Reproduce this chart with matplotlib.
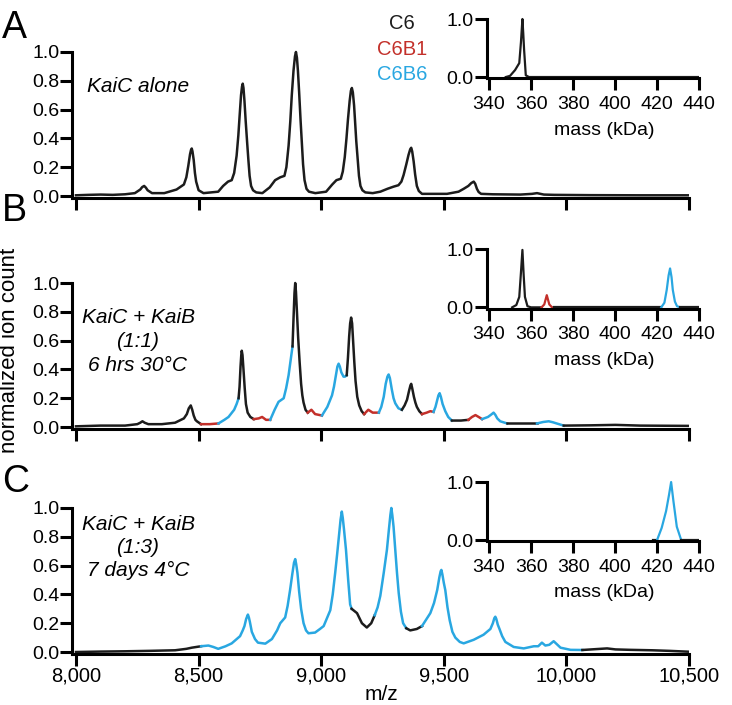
import numpy as np
import matplotlib
matplotlib.use("Agg")
import matplotlib.pyplot as plt

plt.rcParams['font.family'] = ['Liberation Sans', 'DejaVu Sans']

# colours for the three species
COLORS = {'k': '#1c1c1c', 'r': '#c3302a', 'b': '#29a7e1'}

# ---- panel A: KaiC alone (m/z, normalized ion count) ----
a_mz = [8000, 8050, 8100, 8150, 8200, 8240, 8262, 8270, 8278, 8285, 8292, 8310, 8360, 8390, 8410,
        8440, 8450, 8458, 8465, 8469, 8472, 8475, 8480, 8485, 8490, 8500, 8520,
        8580, 8600, 8620, 8635, 8645, 8655, 8662, 8667, 8673, 8677, 8680, 8683, 8687, 8692, 8698, 8703, 8708, 8714, 8722, 8735, 8760,
        8790, 8812, 8833, 8850, 8858, 8867, 8874, 8880, 8887, 8893, 8897, 8901, 8905, 8910, 8916, 8921, 8926, 8932, 8940, 8950, 8976,
        9020, 9045, 9062, 9080, 9088, 9096, 9103, 9109, 9116, 9121, 9125, 9129, 9134, 9138, 9143, 9149, 9154, 9160, 9168, 9180, 9210,
        9241, 9270, 9295, 9315, 9327, 9336, 9347, 9356, 9363, 9367, 9371, 9377, 9383, 9390, 9398, 9411,
        9513, 9560, 9581, 9600, 9612, 9622, 9628, 9635, 9642, 9652, 9700, 9812, 9860, 9880, 9908, 9950, 10100, 10300, 10500]
a_int = [0.005, 0.008, 0.01, 0.008, 0.012, 0.02, 0.045, 0.062, 0.07, 0.058, 0.04, 0.02, 0.02, 0.035, 0.045,
         0.08, 0.13, 0.21, 0.29, 0.32, 0.33, 0.31, 0.25, 0.16, 0.10, 0.04, 0.02,
         0.03, 0.07, 0.10, 0.11, 0.16, 0.28, 0.42, 0.55, 0.70, 0.76, 0.78, 0.75, 0.66, 0.52, 0.37, 0.25, 0.14, 0.07, 0.04, 0.025, 0.02,
         0.06, 0.11, 0.13, 0.14, 0.20, 0.35, 0.52, 0.70, 0.87, 0.97, 1.0, 0.96, 0.87, 0.72, 0.52, 0.37, 0.22, 0.11, 0.05, 0.03, 0.02,
         0.03, 0.08, 0.11, 0.12, 0.17, 0.27, 0.40, 0.53, 0.66, 0.73, 0.75, 0.72, 0.63, 0.52, 0.38, 0.25, 0.14, 0.07, 0.04, 0.025, 0.02,
         0.03, 0.05, 0.065, 0.075, 0.10, 0.146, 0.22, 0.285, 0.325, 0.335, 0.31, 0.24, 0.15, 0.07, 0.035, 0.015,
         0.015, 0.03, 0.05, 0.07, 0.09, 0.10, 0.085, 0.05, 0.028, 0.015, 0.012, 0.01, 0.015, 0.02, 0.01, 0.008, 0.006, 0.005, 0.005]
a_edges = [8000, 10500]
a_colors = ['k']

# ---- panel B: KaiC + KaiB (1:1), 6 hrs 30°C ----
b_mz = [8000, 8100, 8200, 8250, 8262, 8271, 8280, 8295, 8350, 8404, 8440, 8452, 8460, 8468, 8474, 8480, 8487, 8493, 8510,
        8545, 8581, 8605, 8622, 8645, 8655, 8663, 8667, 8671, 8674, 8676, 8679, 8683, 8688, 8693, 8700, 8711, 8725,
        8745, 8759, 8775, 8792, 8810, 8826, 8847, 8857, 8867, 8875, 8883, 8887, 8891, 8894, 8897, 8901, 8906, 8912, 8918, 8923, 8928, 8936, 8945,
        8960, 8975, 9003, 9025, 9044, 9052, 9060, 9066, 9071, 9076, 9082, 9091, 9097, 9104, 9109, 9114, 9118, 9122, 9126, 9130, 9135, 9140, 9147, 9155, 9165, 9175,
        9192, 9210, 9235, 9245, 9255, 9263, 9270, 9275, 9280, 9288, 9295, 9302, 9315, 9329,
        9340, 9350, 9358, 9364, 9367, 9371, 9378, 9384, 9390, 9400, 9411,
        9430, 9445, 9458, 9466, 9472, 9478, 9483, 9488, 9495, 9506, 9518, 9533, 9570, 9600, 9615, 9629, 9642, 9656,
        9680, 9692, 9703, 9710, 9718, 9730, 9758, 9820, 9880, 9905, 9928, 9945, 9960, 9989, 10100, 10200, 10300, 10500]
b_int = [0.005, 0.01, 0.01, 0.02, 0.03, 0.04, 0.03, 0.02, 0.02, 0.03, 0.06, 0.09, 0.13, 0.15, 0.12, 0.08, 0.05, 0.04, 0.02,
         0.02, 0.025, 0.05, 0.07, 0.12, 0.16, 0.20, 0.28, 0.42, 0.50, 0.53, 0.50, 0.40, 0.27, 0.16, 0.10, 0.07, 0.055,
         0.06, 0.07, 0.05, 0.05, 0.12, 0.175, 0.20, 0.27, 0.36, 0.46, 0.56, 0.75, 0.93, 1.0, 0.94, 0.80, 0.62, 0.45, 0.30, 0.22, 0.17, 0.12, 0.10,
         0.12, 0.09, 0.08, 0.14, 0.22, 0.28, 0.36, 0.42, 0.44, 0.42, 0.38, 0.35, 0.35, 0.36, 0.48, 0.63, 0.72, 0.76, 0.72, 0.60, 0.45, 0.32, 0.21, 0.15, 0.11, 0.09,
         0.12, 0.10, 0.10, 0.14, 0.21, 0.30, 0.35, 0.365, 0.34, 0.26, 0.20, 0.165, 0.13, 0.12,
         0.15, 0.19, 0.25, 0.29, 0.30, 0.27, 0.21, 0.17, 0.14, 0.11, 0.09,
         0.10, 0.11, 0.105, 0.14, 0.18, 0.22, 0.235, 0.21, 0.16, 0.11, 0.07, 0.045, 0.045, 0.05, 0.07, 0.083, 0.07, 0.055,
         0.07, 0.085, 0.10, 0.085, 0.06, 0.04, 0.025, 0.025, 0.025, 0.035, 0.04, 0.033, 0.025, 0.01, 0.012, 0.015, 0.01, 0.008]
b_edges = [8000, 8510, 8581, 8663, 8725, 8792, 8883, 8945, 9003, 9104, 9175, 9235,
           9329, 9411, 9458, 9533, 9600, 9656, 9758, 9880, 9989, 10500]
b_colors = ['k', 'r', 'b', 'k', 'r', 'b', 'k', 'r', 'b', 'k', 'r', 'b',
            'k', 'r', 'b', 'k', 'r', 'b', 'k', 'b', 'k']

# ---- panel C: KaiC + KaiB (1:3), 7 days 4°C ----
c_mz = [8000, 8100, 8200, 8300, 8404, 8450, 8472, 8510,
        8540, 8560, 8580, 8610, 8635, 8669, 8680, 8687, 8694, 8701, 8705, 8709, 8717, 8730, 8742, 8772, 8799,
        8820, 8833, 8853, 8863, 8873, 8882, 8889, 8894, 8898, 8903, 8910, 8918, 8928, 8938, 8948, 8975, 8995, 9010,
        9037, 9047, 9057, 9065, 9072, 9079, 9084, 9088, 9093, 9101, 9110, 9118, 9124, 9146, 9166, 9186, 9204, 9218,
        9230, 9241, 9255, 9268, 9276, 9282, 9286, 9290, 9295, 9302, 9309, 9316, 9325, 9334, 9347, 9363, 9390, 9411,
        9445, 9460, 9473, 9482, 9487, 9490, 9494, 9500, 9506, 9515, 9524, 9535, 9547, 9565, 9581, 9622, 9662,
        9690, 9700, 9706, 9710, 9714, 9720, 9727, 9738, 9751,
        9785, 9826, 9867, 9885, 9900, 9914, 9930, 9948, 9976, 10017, 10065, 10120, 10166, 10200, 10261, 10350, 10420, 10500]
c_int = [0.0, 0.003, 0.005, 0.008, 0.012, 0.022, 0.03, 0.04,
         0.045, 0.035, 0.022, 0.04, 0.06, 0.11, 0.15, 0.18, 0.23, 0.26, 0.24, 0.21, 0.14, 0.09, 0.065, 0.058, 0.09,
         0.15, 0.20, 0.24, 0.32, 0.43, 0.54, 0.62, 0.645, 0.61, 0.55, 0.42, 0.30, 0.20, 0.15, 0.13, 0.135, 0.16, 0.18,
         0.29, 0.40, 0.55, 0.68, 0.80, 0.92, 0.975, 0.93, 0.85, 0.71, 0.50, 0.33, 0.30, 0.27, 0.20, 0.17, 0.20, 0.255,
         0.31, 0.39, 0.55, 0.71, 0.85, 0.95, 1.0, 0.95, 0.87, 0.71, 0.55, 0.41, 0.28, 0.20, 0.165, 0.15, 0.16, 0.18,
         0.27, 0.34, 0.43, 0.52, 0.56, 0.57, 0.54, 0.48, 0.43, 0.31, 0.22, 0.14, 0.10, 0.07, 0.06, 0.085, 0.12,
         0.16, 0.20, 0.235, 0.245, 0.23, 0.19, 0.16, 0.11, 0.07,
         0.035, 0.025, 0.04, 0.04, 0.065, 0.045, 0.05, 0.075, 0.03, 0.015, 0.014, 0.02, 0.025, 0.018, 0.015, 0.012, 0.008, 0.002]
c_edges = [8000, 8510, 9124, 9218, 9347, 9411, 10065, 10500]
c_colors = ['k', 'b', 'k', 'b', 'k', 'b', 'k']

# ---- insets: deconvolved mass (kDa) ----
ia_mass = [348, 350, 352.4, 354.4, 355.2, 355.9, 356.3, 356.7, 357.5, 359, 440]
ia_int = [0.0, 0.02, 0.12, 0.24, 0.6, 1.0, 0.75, 0.47, 0.03, 0.0, 0.0]
ia_edges = [348, 440]
ia_colors = ['k']

ib_mass = [351, 353, 354.4, 355.2, 355.9, 356.5, 357.1, 358.3, 360, 365, 366.3, 367.5, 368.7, 370, 371,
           380, 400, 422, 423.5, 424.6, 425.5, 426.2, 426.9, 427.5, 428.5, 429.5, 431, 435, 440]
ib_int = [0.0, 0.04, 0.18, 0.6, 0.99, 0.55, 0.18, 0.02, 0.0, 0.0, 0.05, 0.21, 0.05, 0.0, 0.0,
          0.0, 0.0, 0.0, 0.08, 0.3, 0.55, 0.67, 0.52, 0.3, 0.1, 0.02, 0.0, 0.0, 0.0]
ib_edges = [351, 365, 371, 422, 431, 440]
ib_colors = ['k', 'r', 'k', 'b', 'k']

ic_mass = [418, 420, 422.2, 424.3, 425.7, 426.7, 427.8, 429.4, 431.5, 435, 440]
ic_int = [0.0, 0.0, 0.21, 0.5, 0.78, 1.0, 0.67, 0.23, 0.0, 0.0, 0.0]
ic_edges = [418, 420, 431.5, 440]
ic_colors = ['k', 'b', 'k']

mz_ticks = [8000, 8500, 9000, 9500, 10000, 10500]
mz_labels = ['8,000', '8,500', '9,000', '9,500', '10,000', '10,500']
y_ticks = [0.0, 0.2, 0.4, 0.6, 0.8, 1.0]
mass_ticks = [340, 360, 380, 400, 420, 440]

W, H = 732, 705


def draw_trace(ax, x, y, edges, colors, lw):
    # one line piece per coloured stretch of the spectrum
    x = np.asarray(x, dtype=float)
    y = np.asarray(y, dtype=float)
    for lo, hi, c in zip(edges[:-1], edges[1:], colors):
        m = (x >= lo) & (x <= hi)
        ax.plot(x[m], y[m], color=COLORS[c], lw=lw, solid_joinstyle='round')


def style_axes(ax):
    for s in ['top', 'right']:
        ax.spines[s].set_visible(False)
    for s in ['left', 'bottom']:
        ax.spines[s].set_linewidth(2.2)
        ax.spines[s].set_color('black')


fig = plt.figure(figsize=(W / 100, H / 100), dpi=100)

main_bottoms = [0.7189, 0.3912, 0.0721]
inset_bottoms = [0.8891, 0.5624, 0.2323]
traces = [(a_mz, a_int, a_edges, a_colors),
          (b_mz, b_int, b_edges, b_colors),
          (c_mz, c_int, c_edges, c_colors)]
insets = [(ia_mass, ia_int, ia_edges, ia_colors),
          (ib_mass, ib_int, ib_edges, ib_colors),
          (ic_mass, ic_int, ic_edges, ic_colors)]

for i in range(3):
    ax = fig.add_axes([0.0988, main_bottoms[i], 0.8425, 0.2135])
    style_axes(ax)
    x, y, e, c = traces[i]
    draw_trace(ax, x, y, e, c, 1.8)
    ax.set_xlim(7985, 10500)
    ax.set_ylim(-0.015, 1.03)
    ax.spines['left'].set_bounds(-0.015, 1.0)
    ax.set_yticks(y_ticks)
    ax.set_yticklabels(['%.1f' % v for v in y_ticks])
    ax.set_xticks(mz_ticks)
    if i == 2:
        ax.set_xticklabels(mz_labels)
    else:
        ax.set_xticklabels([])
    ax.tick_params(axis='x', direction='out', length=8.5, width=2.2, labelsize=14.5, pad=0.5)
    ax.tick_params(axis='y', direction='out', length=9, width=2.2, labelsize=14, pad=0.5)

    iax = fig.add_axes([0.6652, inset_bottoms[i], 0.2898, 0.0864])
    style_axes(iax)
    x, y, e, c = insets[i]
    draw_trace(iax, x, y, e, c, 1.6)
    iax.set_xlim(339, 440)
    iax.set_ylim(-0.02, 1.03)
    iax.spines['left'].set_bounds(-0.02, 1.0)
    iax.set_yticks([0.0, 1.0])
    iax.set_yticklabels(['0.0', '1.0'])
    iax.set_xticks(mass_ticks)
    iax.tick_params(axis='x', direction='out', length=8.5, width=2.2, labelsize=14, pad=4)
    iax.tick_params(axis='y', direction='out', length=9, width=2.2, labelsize=14, pad=0.5)

# inset x labels
for base in [135, 365, 597]:
    fig.text(604 / W, 1 - base / H, 'mass (kDa)', ha='center', va='baseline', fontsize=14)

# panel letters
for letter, base in [('A', 38), ('B', 221), ('C', 492)]:
    fig.text(2 / W, 1 - base / H, letter, ha='left', va='baseline', fontsize=27)

# sample annotations
fig.text(138 / W, 1 - 92 / H, 'KaiC alone', ha='center', va='baseline', fontsize=15, style='italic')
for txt, base in [('KaiC + KaiB', 323), ('(1:1)', 347), ('6 hrs 30°C', 371)]:
    fig.text(138 / W, 1 - base / H, txt, ha='center', va='baseline', fontsize=15, style='italic')
for txt, base in [('KaiC + KaiB', 530), ('(1:3)', 553), ('7 days 4°C', 576)]:
    fig.text(138 / W, 1 - base / H, txt, ha='center', va='baseline', fontsize=15, style='italic')

# species key
for txt, col, base in [('C6', 'k', 29), ('C6B1', 'r', 55), ('C6B6', 'b', 80)]:
    fig.text(402 / W, 1 - base / H, txt, ha='center', va='baseline', fontsize=14.5, color=COLORS[col])

fig.text(381 / W, 1 - 700 / H, 'm/z', ha='center', va='baseline', fontsize=15)
fig.text(10 / W, 1 - 350 / H, 'normalized ion count', ha='center', va='center',
         rotation=90, fontsize=16)

fig.savefig('out.png', dpi=100)
